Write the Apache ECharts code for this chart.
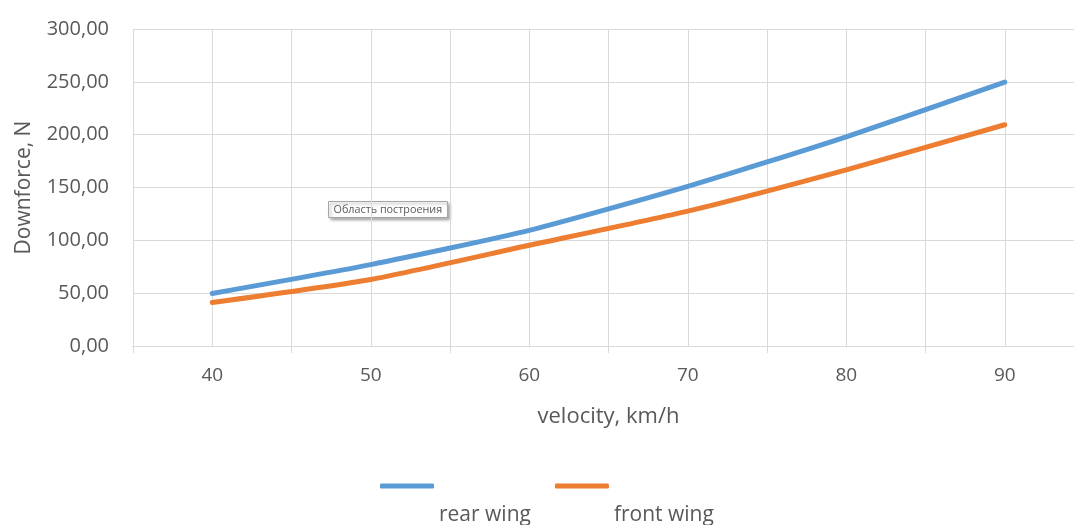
<!DOCTYPE html>
<html>
<head>
<meta charset="utf-8">
<script src="https://cdn.jsdelivr.net/npm/echarts@6/dist/echarts.min.js"></script>
<style>
  html, body { margin: 0; padding: 0; background: #ffffff; }
  #chart { width: 1074px; height: 525px; }
</style>
</head>
<body>
<div id="chart"></div>
<script>
// Velocity points, km/h
const velocity = [40, 50, 60, 70, 80, 90];
// Downforce, N
const rearWing = [49.7, 77.0, 109.4, 151.0, 198.0, 249.7];
const frontWing = [41.2, 63.0, 95.3, 127.6, 166.7, 209.4];
// Labelled velocities
const xLabelValues = [40, 50, 60, 70, 80, 90];
const seriesNames = ['rear wing', 'front wing'];
const plotAreaNote = 'Область построения';

const FONT = '"Open Sans", "Noto Sans", sans-serif';
const TEXT = '#595959';
const GRID = '#d9d9d9';

const chart = echarts.init(document.getElementById('chart'), null, { renderer: 'canvas' });

const toPairs = (xs, ys) => xs.map((x, i) => [x, ys[i]]);

chart.setOption({
  animation: false,
  backgroundColor: '#ffffff',
  grid: { left: 133, top: 29, width: 951, height: 317, containLabel: false, outerBoundsMode: 'none' },
  xAxis: [
    {
      type: 'value', min: 35, max: 95, interval: 5, position: 'bottom',
      name: 'velocity, km/h', nameLocation: 'middle', nameGap: 60,
      nameTextStyle: { fontFamily: FONT, fontSize: 22, color: TEXT },
      axisLine: { show: true, lineStyle: { color: GRID, width: 1 } },
      axisTick: { show: false },
      splitLine: { show: true, lineStyle: { color: GRID, width: 1 } },
      axisLabel: {
        margin: 20, fontFamily: FONT, fontSize: 19, color: TEXT,
        showMinLabel: true, showMaxLabel: true,
        formatter: v => (xLabelValues.indexOf(v) >= 0 ? String(v) : '')
      }
    },
    {
      type: 'value', min: 35, max: 95, interval: 10, position: 'bottom',
      axisLine: { show: true, lineStyle: { color: GRID, width: 1 } },
      axisTick: { show: true, length: 7, inside: false, lineStyle: { color: GRID, width: 1 } },
      axisLabel: { show: false },
      splitLine: { show: false }
    }
  ],
  yAxis: {
    type: 'value', min: 0, max: 300, interval: 50,
    name: 'Downforce, N', nameLocation: 'middle', nameGap: 98, nameRotate: 90,
    nameTextStyle: { fontFamily: FONT, fontSize: 21, color: TEXT },
    axisLine: { show: false }, axisTick: { show: false },
    splitLine: { show: true, lineStyle: { color: GRID, width: 1 } },
    axisLabel: {
      margin: 24, fontFamily: FONT, fontSize: 20, color: TEXT,
      formatter: v => v.toFixed(2).replace('.', ',')
    }
  },
  legend: {
    left: 380, top: 428, padding: 0,
    itemWidth: 54, itemHeight: 5, itemGap: 24,
    icon: 'roundRect',
    data: seriesNames,
    // name sits on a second line, below and to the right of its line sample
    formatter: name => '\n' + name,
    textStyle: { fontFamily: FONT, fontSize: 21, color: TEXT, lineHeight: 58 }
  },
  series: [
    {
      name: seriesNames[0], type: 'line', xAxisIndex: 0, smooth: 0.2,
      showSymbol: false, symbol: 'none',
      lineStyle: { color: '#5b9bd5', width: 5, cap: 'round' },
      itemStyle: { color: '#5b9bd5' },
      data: toPairs(velocity, rearWing)
    },
    {
      name: seriesNames[1], type: 'line', xAxisIndex: 0, smooth: 0.2,
      showSymbol: false, symbol: 'none',
      lineStyle: { color: '#ed7d31', width: 5, cap: 'round' },
      itemStyle: { color: '#ed7d31' },
      data: toPairs(velocity, frontWing)
    }
  ],
  graphic: [
    {
      type: 'group', left: 328, top: 201,
      children: [
        {
          type: 'rect', shape: { x: 0, y: 0, width: 119, height: 16 },
          style: { fill: '#ffffff', stroke: '#a6a6a6', lineWidth: 1,
                   shadowBlur: 3, shadowOffsetX: 2, shadowOffsetY: 2, shadowColor: 'rgba(0,0,0,0.35)' }
        },
        {
          type: 'text', x: 5, y: 8,
          style: { text: plotAreaNote, fontFamily: FONT, fontSize: 10.8, fill: '#595959', verticalAlign: 'middle' }
        }
      ]
    }
  ]
});
</script>
</body>
</html>
